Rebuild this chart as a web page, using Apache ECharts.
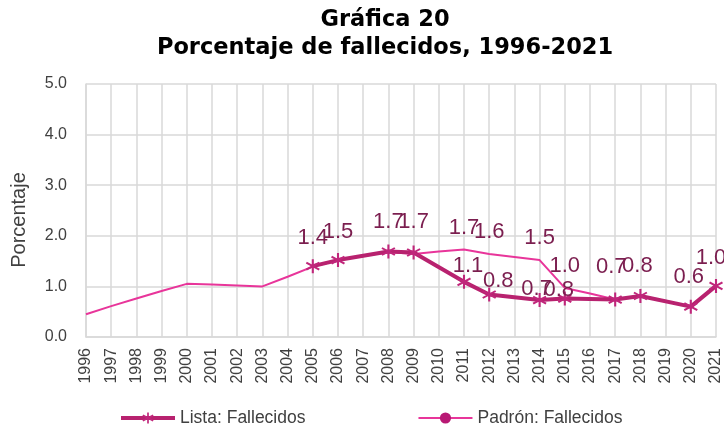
<!DOCTYPE html>
<html>
<head>
<meta charset="utf-8">
<script src="https://cdn.jsdelivr.net/npm/echarts@6/dist/echarts.min.js"></script>
<style>
  html, body { margin: 0; padding: 0; background: #fff; }
  #chart { width: 724px; height: 431px; }
</style>
</head>
<body>
<div id="chart"></div>
<script>
// datos
const years = ['1996', '1997', '1998', '1999', '2000', '2001', '2002', '2003', '2004', '2005',
  '2006', '2007', '2008', '2009', '2010', '2011', '2012', '2013', '2014', '2015',
  '2016', '2017', '2018', '2019', '2020', '2021']
const padron = [0.45, 0.61, 0.76, 0.91, 1.05, 1.04, 1.02, 1.00, 1.19, 1.39,
  1.52, 1.60, 1.68, 1.64, 1.69, 1.73, 1.64, 1.58, 1.52, 0.97,
  0.86, 0.74, 0.81, 0.71, 0.60, 1.01]
const lista = [null, null, null, null, null, null, null, null, null, 1.40,
  1.52, null, 1.69, 1.67, null, 1.09, 0.84, null, 0.73, 0.76,
  null, 0.74, 0.81, null, 0.60, 1.01]
const padronLabelYears = ['2011', '2012', '2014', '2015']
const yTicks = [0, 1, 2, 3, 4, 5]

// ajustes manuales de etiquetas (como en el original)
const listaLabelShift = {
  '2005': [0, 0], '2006': [0, 0], '2008': [0, -2], '2009': [0, -3],
  '2011': [4, 12], '2012': [9, 14], '2014': [-3, 17], '2015': [-6, 19],
  '2017': [-4, -5], '2018': [-3, -2], '2020': [-2, -2], '2021': [-5, 0]
}

const starPath = 'path://M-1.4 -10L1.4 -10L1.4 10L-1.4 10Z' +
  'M7.96 -6.21L9.36 -3.79L-7.96 6.21L-9.36 3.79Z' +
  'M-9.36 -3.79L-7.96 -6.21L9.36 3.79L7.96 6.21Z'

const labelFont = "'Liberation Sans', Arial, sans-serif"
const labelColor = '#7b1e4f'

const listaData = lista.map((v, i) => {
  const s = listaLabelShift[years[i]]
  if (v === null) return null
  return { value: v, label: { offset: s || [0, 0] } }
})
const padronData = padron.map((v, i) => {
  if (padronLabelYears.includes(years[i])) {
    return { value: v, label: { show: true } }
  }
  return v
})

const chart = echarts.init(document.getElementById('chart'))
chart.setOption({
  backgroundColor: '#fff',
  animation: false,
  title: {
    text: 'Gráfica 20\nPorcentaje de fallecidos, 1996-2021',
    left: 380,
    top: 1,
    textAlign: 'center',
    textStyle: {
      fontFamily: "'DejaVu Sans', sans-serif",
      fontWeight: 'bold',
      fontSize: 22.5,
      lineHeight: 28,
      color: '#000'
    }
  },
  grid: { left: 86, right: 7, top: 84, bottom: 94 },
  graphic: [{
    type: 'text',
    x: 19,
    y: 220,
    rotation: Math.PI / 2,
    style: {
      text: 'Porcentaje',
      fontFamily: labelFont,
      fontSize: 20,
      fill: '#404040',
      align: 'center',
      verticalAlign: 'middle'
    }
  }],
  legend: {
    left: 119,
    top: 409,
    padding: 0,
    itemWidth: 54,
    itemHeight: 14,
    itemGap: 112,
    textStyle: { fontFamily: labelFont, fontSize: 17.5, color: '#404040' },
    data: [
      { name: 'Lista: Fallecidos', lineStyle: { width: 4 } },
      { name: 'Padrón: Fallecidos', lineStyle: { width: 2 } }
    ]
  },
  xAxis: {
    type: 'category',
    data: years,
    boundaryGap: false,
    axisLine: { lineStyle: { color: '#d9d9d9', width: 1.5 } },
    axisTick: { show: false },
    splitLine: { show: true, interval: 0, lineStyle: { color: '#d9d9d9', width: 1.5 } },
    axisLabel: {
      interval: 0,
      rotate: 90,
      margin: 11,
      fontFamily: labelFont,
      fontSize: 16,
      color: '#404040'
    }
  },
  yAxis: {
    type: 'value',
    min: yTicks[0],
    max: yTicks[yTicks.length - 1],
    interval: 1,
    axisLine: { show: true, lineStyle: { color: '#d9d9d9', width: 1.5 } },
    axisTick: { show: false },
    splitLine: { lineStyle: { color: '#d9d9d9', width: 1.5 } },
    axisLabel: {
      margin: 19,
      fontFamily: labelFont,
      fontSize: 16,
      color: '#404040',
      formatter: v => v.toFixed(1)
    }
  },
  series: [
    {
      name: 'Padrón: Fallecidos',
      type: 'line',
      data: padronData,
      showSymbol: true,
      symbol: 'circle',
      symbolSize: 0,
      legendIcon: 'circle',
      lineStyle: { color: '#e8359a', width: 2 },
      itemStyle: { color: '#b81874' },
      z: 2,
      label: {
        show: false,
        position: 'top',
        distance: 11,
        fontFamily: labelFont,
        fontSize: 22,
        color: labelColor,
        formatter: p => p.value.toFixed(1)
      }
    },
    {
      name: 'Lista: Fallecidos',
      type: 'line',
      data: listaData,
      connectNulls: true,
      symbol: starPath,
      symbolSize: 14,
      lineStyle: { color: '#b8226f', width: 4 },
      itemStyle: { color: '#c0267b' },
      z: 3,
      label: {
        show: true,
        position: 'top',
        distance: 10,
        fontFamily: labelFont,
        fontSize: 22,
        color: labelColor,
        formatter: p => p.value.toFixed(1)
      }
    }
  ]
})
</script>
</body>
</html>
